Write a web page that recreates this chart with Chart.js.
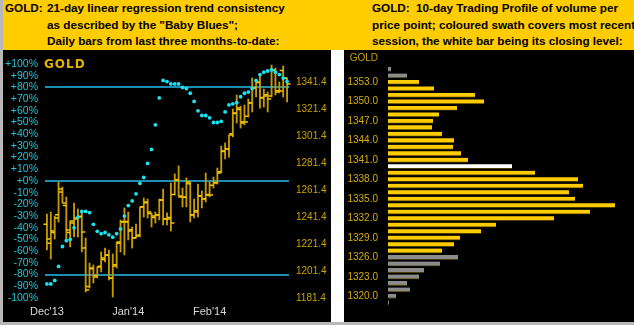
<!DOCTYPE html>
<html>
<head>
<meta charset="utf-8">
<script src="https://cdn.jsdelivr.net/npm/chart.js"></script>
<style>
  html, body { margin: 0; padding: 0; }
  body { width: 634px; height: 325px; background: #ffffff; position: relative; overflow: hidden;
         font-family: "Liberation Sans", Arial, sans-serif; }
  #header { position: absolute; left: 0; top: 0; width: 634px; height: 50px; background: #ffcc00; }
  .block { position: absolute; top: 0; font-weight: bold; font-size: 11.7px; line-height: 16.7px;
           color: #000; white-space: nowrap; }
  .lead { display: inline-block; }
  #edgeLeft { position: absolute; left: 0; top: 0; width: 3px; height: 325px; background: #b8b8b8; }
  #edgeBottom { position: absolute; left: 0; top: 322px; width: 634px; height: 3px; background: #b8b8b8; }
  #trendBox { position: absolute; left: 3px; top: 50px; width: 328px; height: 272px; background: #000; }
  #profileBox { position: absolute; left: 344px; top: 50px; width: 290px; height: 272px; background: #000; }
</style>
</head>
<body>
<div id="header">
  <div class="block" style="left:5px">
    <div><span class="lead" style="width:42px">GOLD:</span>21-day linear regression trend consistency</div>
    <div style="padding-left:42px">as described by the "Baby Blues";</div>
    <div style="padding-left:42px">Daily bars from last three months-to-date:</div>
  </div>
  <div class="block" style="left:372px">
    <div><span class="lead" style="width:44px">GOLD:</span>10-day Trading Profile of volume per</div>
    <div>price point; coloured swath covers most recent</div>
    <div>session, the white bar being its closing level:</div>
  </div>
</div>
<div id="edgeLeft"></div>
<div id="edgeBottom"></div>
<div id="trendBox"><canvas id="trendChart"></canvas></div>
<div id="profileBox"><canvas id="profileChart"></canvas></div>

<script>
// Daily GOLD bars, Dec'13 to Feb'14 (63 sessions)
const monthTicks = { 0: "Dec'13", 21: "Jan'14", 42: "Feb'14" };

const opens = [1236.0, 1222.0, 1230.0, 1243.0, 1260.0, 1250.0, 1230.0, 1237.0, 1240.0, 1242.0,
  1218.4, 1190.0, 1203.0, 1198.0, 1205.0, 1210.0, 1213.0, 1196.0, 1206.0, 1222.0,
  1238.0, 1238.0, 1232.0, 1226.0, 1228.0, 1249.0, 1252.0, 1244.0, 1241.0, 1243.0,
  1254.0, 1240.0, 1241.0, 1258.0, 1269.0, 1257.0, 1256.0, 1266.0, 1243.0, 1246.0,
  1257.0, 1255.0, 1258.0, 1265.0, 1267.0, 1275.0, 1290.0, 1292.0, 1303.0, 1318.0,
  1321.0, 1312.0, 1316.0, 1326.0, 1337.0, 1341.0, 1330.0, 1332.0, 1331.0, 1350.0,
  1335.0, 1350.0, 1344.0];

const highs = [1243.6, 1245.1, 1242.1, 1267.3, 1263.6, 1256.2, 1238.4, 1251.8, 1247.3, 1244.4,
  1225.8, 1207.3, 1205.9, 1204.4, 1215.5, 1218.4, 1216.9, 1214.0, 1222.9, 1239.2,
  1248.1, 1245.1, 1234.0, 1236.2, 1248.8, 1255.5, 1254.7, 1244.4, 1245.1, 1254.7,
  1262.1, 1244.4, 1266.6, 1273.3, 1279.2, 1262.9, 1270.3, 1267.3, 1254.7, 1265.8,
  1260.7, 1274.0, 1267.3, 1271.0, 1277.7, 1294.0, 1296.2, 1302.1, 1321.4, 1331.8,
  1323.6, 1324.4, 1328.8, 1344.4, 1342.9, 1346.6, 1336.2, 1334.0, 1354.0, 1351.8,
  1341.4, 1353.3, 1344.4];

const lows = [1217.0, 1210.3, 1225.1, 1237.7, 1251.8, 1224.4, 1219.2, 1226.6, 1226.6, 1215.5,
  1185.9, 1188.8, 1192.5, 1196.2, 1200.7, 1208.1, 1194.7, 1182.1, 1203.6, 1215.5,
  1213.3, 1224.4, 1218.4, 1225.8, 1226.6, 1241.4, 1240.7, 1234.0, 1236.9, 1239.2,
  1235.5, 1235.5, 1231.0, 1257.7, 1256.2, 1248.8, 1248.8, 1237.7, 1240.7, 1241.4,
  1248.1, 1252.5, 1256.2, 1262.9, 1265.8, 1274.0, 1284.4, 1285.8, 1300.7, 1311.0,
  1307.3, 1309.6, 1315.5, 1319.2, 1330.3, 1322.1, 1322.9, 1319.2, 1330.3, 1331.8,
  1333.3, 1330.3, 1326.6];

const closes = [1225.1, 1231.0, 1240.7, 1262.1, 1251.8, 1231.8, 1238.4, 1240.7, 1241.4, 1230.3,
  1187.3, 1203.6, 1197.0, 1204.4, 1211.0, 1213.3, 1196.2, 1205.1, 1222.9, 1237.7,
  1237.7, 1231.0, 1225.8, 1227.3, 1248.8, 1252.5, 1245.1, 1242.1, 1242.9, 1254.0,
  1239.9, 1239.9, 1237.0, 1268.8, 1256.2, 1256.2, 1267.3, 1242.9, 1245.1, 1256.9,
  1254.7, 1257.7, 1257.7, 1266.6, 1274.0, 1290.3, 1291.8, 1302.1, 1318.4, 1322.1,
  1311.0, 1311.8, 1325.8, 1337.0, 1341.4, 1329.6, 1331.0, 1328.8, 1350.3, 1334.0,
  1334.7, 1344.4, 1339.9];

// "Baby Blues": 21-day linear regression trend consistency, in percent
const trendPct = [-88, -88, -85, -73, -56, -51, -50, -40, -31, -26,
  -26, -27, -37, -43, -45, -44, -46, -48, -45, -41,
  -30, -21, -17, -11, -2, 3, 15, 27, 48, 71,
  86, 85, 83, 83, 83, 80, 79, 75, 68, 60,
  56, 56, 54, 50, 50, 51, 59, 65, 66, 67,
  72, 75, 76, 79, 86, 91, 93, 94, 95, 93,
  91, 88, 85];

const pctLines = [-80, 0, 80];
const priceTicks = [1181.4, 1201.4, 1221.4, 1241.4, 1261.4, 1281.4, 1301.4, 1321.4, 1341.4];

// 10-day trading profile: volume per price point
const profilePrices = [1355, 1354, 1353, 1352, 1351, 1350, 1349, 1348, 1347, 1346,
  1345, 1344, 1343, 1342, 1341, 1340, 1339, 1338, 1337, 1336,
  1335, 1334, 1333, 1332, 1331, 1330, 1329, 1328, 1327, 1326,
  1325, 1324, 1323, 1322, 1321, 1320, 1319];
const profileVolume = [3, 19, 31, 46, 87, 96, 69, 51, 45, 44,
  54, 66, 65, 73, 80, 124, 147, 190, 195, 181,
  187, 227, 202, 166, 108, 93, 72, 66, 54, 70,
  52, 36, 31, 19, 22, 8, 1];
const swathHigh = 1353;
const swathLow = 1327;
const closingLevel = 1340;

// Small plugin to write a label like "GOLD" inside a chart
const cornerLabel = {
  id: 'cornerLabel',
  afterDraw(chart, args, opts) {
    if (!opts.text) return;
    const ctx = chart.ctx;
    ctx.save();
    ctx.font = opts.font;
    ctx.fillStyle = opts.color;
    ctx.textAlign = opts.align || 'left';
    ctx.textBaseline = 'middle';
    if (opts.spacing) ctx.letterSpacing = opts.spacing;
    ctx.fillText(opts.text, opts.x, opts.y);
    ctx.restore();
  }
};
Chart.register(cornerLabel);

const dayLabels = closes.map((c, i) => monthTicks[i] || '');

// Left chart: daily bars plus the trend dots
new Chart(document.getElementById('trendChart'), {
  type: 'bar',
  data: {
    labels: dayLabels,
    datasets: [
      {
        type: 'line',
        data: trendPct,
        yAxisID: 'y',
        showLine: false,
        pointRadius: 1.9,
        pointBackgroundColor: '#19e3f2',
        pointBorderWidth: 0,
        order: 0
      },
      {
        type: 'line',
        data: opens,
        yAxisID: 'y2',
        showLine: false,
        pointStyle: 'dash',
        rotation: 180,
        pointRadius: 3.5,
        pointBorderColor: '#f4c600',
        pointBorderWidth: 1.5,
        order: 1
      },
      {
        type: 'line',
        data: closes,
        yAxisID: 'y2',
        showLine: false,
        pointStyle: 'dash',
        rotation: 0,
        pointRadius: 3.5,
        pointBorderColor: '#f4c600',
        pointBorderWidth: 1.5,
        order: 1
      },
      {
        type: 'bar',
        data: lows.map((l, i) => [l, highs[i]]),
        yAxisID: 'y2',
        backgroundColor: '#c49a00',
        barThickness: 1.2,
        order: 2
      }
    ]
  },
  options: {
    responsive: true,
    maintainAspectRatio: false,
    animation: false,
    layout: { padding: { top: 14, left: 0, right: 0, bottom: 0 } },
    plugins: {
      legend: { display: false },
      tooltip: { enabled: false },
      cornerLabel: { text: 'GOLD', x: 41, y: 15, font: 'bold 12px "DejaVu Sans"', color: '#e2b400', spacing: '1px' }
    },
    scales: {
      x: {
        grid: { display: false, drawTicks: false },
        border: { display: false },
        afterFit: axis => { axis.height = 24; },
        ticks: {
          autoSkip: false, maxRotation: 0, padding: 7,
          color: '#d8d8d8', font: { family: 'Liberation Sans', size: 11 }
        }
      },
      y: {
        position: 'left',
        min: -100, max: 100,
        afterFit: axis => { axis.width = 42; },
        border: { display: false },
        grid: {
          drawTicks: false,
          lineWidth: 2,
          color: c => pctLines.includes(c.tick.value) ? '#1d8fb3' : 'rgba(0,0,0,0)'
        },
        ticks: {
          stepSize: 10, padding: 7, autoSkip: false,
          color: '#25c3d3', font: { family: 'Liberation Sans', size: 10.5 },
          callback: v => (v >= 0 ? '+' : '') + v + '%'
        }
      },
      y2: {
        position: 'right',
        min: 1181.4, max: 1354.73,
        afterFit: axis => { axis.width = 42; },
        afterBuildTicks: axis => { axis.ticks = priceTicks.map(v => ({ value: v })); },
        border: { display: false },
        grid: { display: false, drawTicks: false },
        ticks: {
          padding: 7, autoSkip: false,
          color: '#c9a100', font: { family: 'Liberation Sans', size: 10 },
          callback: v => v.toFixed(1)
        }
      }
    }
  }
});

// Right chart: horizontal volume profile
const profileColors = profilePrices.map(p =>
  p === closingLevel ? '#ffffff' : (p >= swathLow && p <= swathHigh ? '#ffcc00' : '#8c8c8c'));

new Chart(document.getElementById('profileChart'), {
  type: 'bar',
  data: {
    labels: profilePrices,
    datasets: [{
      data: profileVolume,
      backgroundColor: profileColors,
      borderColor: '#4a3c00',
      borderWidth: { top: 0, right: 0, bottom: 1, left: 0 },
      borderSkipped: false,
      barThickness: 4.5
    }]
  },
  options: {
    indexAxis: 'y',
    responsive: true,
    maintainAspectRatio: false,
    animation: false,
    layout: { padding: { top: 11.5, left: 0, right: 0, bottom: 1.5 } },
    plugins: {
      legend: { display: false },
      tooltip: { enabled: false },
      cornerLabel: { text: 'GOLD', x: 34, y: 8, font: '10px "Liberation Sans"', color: '#c9a100', align: 'right' }
    },
    scales: {
      x: { display: false, min: 0, max: 246 },
      y: {
        afterFit: axis => { axis.width = 44; },
        border: { display: false },
        grid: { display: false, drawTicks: false },
        ticks: {
          autoSkip: false, padding: 10,
          color: '#d6ad00', font: { family: 'Liberation Sans', size: 10 },
          callback: (v, i) => profilePrices[i] % 3 === 0 ? profilePrices[i].toFixed(1) : ''
        }
      }
    }
  }
});
</script>
</body>
</html>
